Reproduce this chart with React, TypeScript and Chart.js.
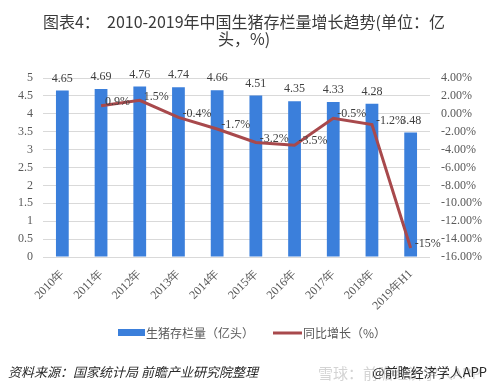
import { useEffect, useRef } from "react";
import { Chart, registerables } from "chart.js";

Chart.register(...registerables);

const categories = ["2010年", "2011年", "2012年", "2013年", "2014年", "2015年", "2016年", "2017年", "2018年", "2019年H1"];
const inventory = [4.65, 4.69, 4.76, 4.74, 4.66, 4.51, 4.35, 4.33, 4.28, 3.48];
const growth: (number | null)[] = [null, 0.9, 1.5, -0.4, -1.7, -3.2, -3.5, -0.5, -1.2, -15];
const titleLines = ["图表4：  2010-2019年中国生猪存栏量增长趋势(单位：亿", "头，%)"];
const seriesNames = ["生猪存栏量（亿头）", "同比增长（%）"];
const sourceText = "资料来源：国家统计局 前瞻产业研究院整理";
const creditText = "@前瞻经济学人APP";
const watermarkText = "雪球：前瞻经济学人APP";

const BLUE = "#3b7fdb";
const RED = "#a8494c";
const SERIF = "'Liberation Serif', 'Times New Roman', serif";
const SANS = "'Noto Sans CJK SC', 'Noto Sans', sans-serif";

const decorPlugin = {
  id: "decor",
  afterDatasetsDraw(chart: any) {
    const ctx = chart.ctx;
    ctx.save();
    ctx.font = `12px ${SERIF}`;
    ctx.fillStyle = "#404040";
    const barMeta = chart.getDatasetMeta(0);
    ctx.textAlign = "center";
    ctx.textBaseline = "middle";
    barMeta.data.forEach((el: any, i: number) => {
      ctx.fillText(inventory[i].toFixed(2), el.x, el.y - 12);
    });
    const lineMeta = chart.getDatasetMeta(1);
    ctx.textAlign = "left";
    lineMeta.data.forEach((el: any, i: number) => {
      const v = growth[i];
      if (v === null || v === undefined) return;
      ctx.fillText(String(v) + "%", el.x + 4, el.y - 4);
    });
    ctx.restore();
  },
  afterDraw(chart: any) {
    const ctx = chart.ctx;
    ctx.save();
    // title
    ctx.fillStyle = "#3a3a3a";
    ctx.font = `16px ${SANS}`;
    ctx.textAlign = "center";
    ctx.textBaseline = "middle";
    ctx.fillText(titleLines[0], 244, 22);
    ctx.fillText(titleLines[1], 244, 39);
    // legend
    ctx.font = `12px ${SANS}`;
    ctx.fillStyle = BLUE;
    ctx.fillRect(118, 329, 27, 7);
    ctx.fillStyle = "#595959";
    ctx.textAlign = "left";
    ctx.fillText(seriesNames[0], 146, 333);
    ctx.strokeStyle = RED;
    ctx.lineWidth = 3;
    ctx.beginPath();
    ctx.moveTo(273, 333);
    ctx.lineTo(302, 333);
    ctx.stroke();
    ctx.fillText(seriesNames[1], 303, 333);
    // footer
    ctx.font = `15px ${SANS}`;
    ctx.fillStyle = "#d4d4d4";
    ctx.fillText(watermarkText, 318, 373);
    ctx.font = `italic 13px ${SANS}`;
    ctx.fillStyle = "#2a2a2a";
    ctx.fillText(sourceText, 8, 372);
    ctx.font = `13px ${SANS}`;
    ctx.textAlign = "right";
    ctx.fillText(creditText, 487, 372);
    ctx.restore();
  },
};

export default function App() {
  const ref = useRef<HTMLCanvasElement>(null);
  useEffect(() => {
    if (!ref.current) return;
    const chart = new Chart(ref.current, {
      type: "bar",
      data: {
        labels: categories,
        datasets: [
          {
            type: "bar",
            label: seriesNames[0],
            data: inventory,
            backgroundColor: BLUE,
            yAxisID: "y",
            barPercentage: 0.33,
            categoryPercentage: 1,
            order: 2,
          },
          {
            type: "line",
            label: seriesNames[1],
            data: growth,
            borderColor: RED,
            backgroundColor: RED,
            borderWidth: 3,
            pointRadius: 0,
            tension: 0,
            yAxisID: "y1",
            order: 1,
          } as any,
        ],
      },
      options: {
        responsive: false,
        animation: false,
        devicePixelRatio: 1,
        layout: { padding: { top: 78, left: 0, right: 0, bottom: 0 } },
        plugins: {
          legend: { display: false },
          title: { display: false },
          tooltip: { enabled: false },
        },
        scales: {
          x: {
            grid: { display: false },
            border: { display: false },
            ticks: {
              font: { family: SERIF, size: 12 },
              color: "#595959",
              maxRotation: 45,
              minRotation: 45,
              padding: 2,
            },
            afterFit: (s: any) => {
              s.height = 135;
            },
          },
          y: {
            position: "left",
            min: 0,
            max: 5,
            ticks: {
              stepSize: 0.5,
              font: { family: SERIF, size: 12 },
              color: "#595959",
              padding: 10,
              callback: (v: any) => String(Math.round(Number(v) * 10) / 10),
            },
            grid: { color: "#d9d9d9", drawTicks: false },
            border: { display: false },
            afterFit: (s: any) => {
              s.width = 43;
            },
          },
          y1: {
            position: "right",
            min: -16,
            max: 4,
            ticks: {
              stepSize: 2,
              font: { family: SERIF, size: 12 },
              color: "#595959",
              padding: 11,
              callback: (v: any) => Number(v).toFixed(2) + "%",
            },
            grid: { display: false, drawTicks: false },
            border: { display: false },
            afterFit: (s: any) => {
              s.width = 58;
            },
          },
        },
      },
      plugins: [decorPlugin],
    });
    return () => chart.destroy();
  }, []);
  return (
    <div style={{ position: "fixed", left: 0, top: 0, width: 488, height: 392, background: "#fff" }}>
      <canvas ref={ref} width={488} height={392} style={{ width: 488, height: 392, display: "block" }} />
    </div>
  );
}
